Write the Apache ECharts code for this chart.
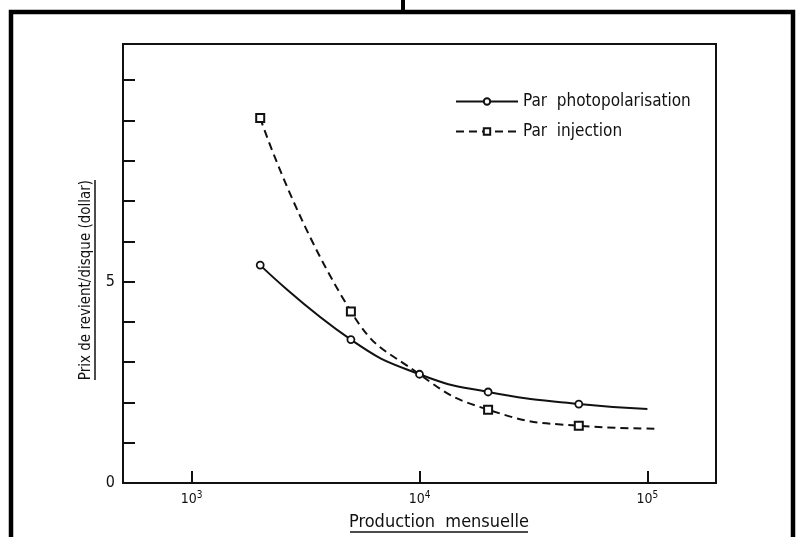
<!DOCTYPE html>
<html>
<head>
<meta charset="utf-8">
<script src="https://cdn.jsdelivr.net/npm/echarts@6/dist/echarts.min.js"></script>
<style>
  html, body { margin: 0; padding: 0; background: #fff; }
  #chart { width: 800px; height: 537px; }
</style>
</head>
<body>
<div id="chart"></div>
<script>
  // production mensuelle (log scale)
  const photoX = [2000, 5000, 10000, 20000, 50000, 100000]
  const photoY = [5.41, 3.56, 2.70, 2.26, 1.96, 1.84]
  const injX = [2000, 5000, 10000, 20000, 50000, 108000]
  const injY = [9.06, 4.26, 2.70, 1.82, 1.42, 1.35]
  // which points carry a marker
  const photoMarked = [true, true, true, true, true, false]
  const injMarked = [true, true, false, true, true, false]

  const yLabels = { 0: '0', 5: '5' }
  const supDigits = { 3: '3', 4: '4', 5: '5' }

  const FONT = '"DejaVu Sans Condensed", "Liberation Sans Narrow", sans-serif'
  const INK = '#111'

  function pts(xs, ys, marked) {
    return xs.map((x, i) => marked[i] ? [x, ys[i]] : { value: [x, ys[i]], symbol: 'none' })
  }

  const chart = echarts.init(document.getElementById('chart'))

  chart.setOption({
    backgroundColor: '#fff',
    animation: false,
    textStyle: { fontFamily: FONT, color: INK },
    grid: {
      left: 123, right: 84, top: 44, bottom: 54,
      show: true, borderColor: INK, borderWidth: 2, backgroundColor: 'transparent'
    },
    legend: {
      orient: 'vertical',
      left: 450, top: 88,
      itemWidth: 62, itemHeight: 8, itemGap: 13,
      textStyle: { fontFamily: FONT, fontSize: 17, color: INK },
      data: ['Par  photopolarisation', 'Par  injection']
    },
    xAxis: {
      type: 'log', logBase: 10, min: 500, max: 200000,
      axisLine: { lineStyle: { color: INK, width: 2 } },
      axisTick: { inside: true, length: 12, lineStyle: { color: INK, width: 2 } },
      splitLine: { show: false },
      axisLabel: {
        margin: 7, color: INK, fontSize: 14,
        showMinLabel: false, showMaxLabel: false,
        formatter: v => {
          const p = Math.round(Math.log10(v))
          if (Math.abs(Math.pow(10, p) - v) > 1e-6 * v || !supDigits[p]) return ''
          return '10{s|' + supDigits[p] + '}'
        },
        rich: { s: { fontSize: 10, verticalAlign: 'top', padding: [0, 0, 8, 0], color: INK } }
      }
    },
    yAxis: {
      type: 'value', min: 0, max: 10.9, interval: 1,
      axisLine: { show: true, lineStyle: { color: INK, width: 2 } },
      axisTick: { inside: true, length: 12, lineStyle: { color: INK, width: 2 } },
      splitLine: { show: false },
      axisLabel: {
        margin: 8, color: INK, fontSize: 16,
        formatter: v => yLabels[v] !== undefined ? yLabels[v] : ''
      }
    },
    graphic: [
      // outer frame of the scanned page
      { type: 'polyline', shape: { points: [[11, 537], [11, 12], [793, 12], [793, 537]] },
        style: { stroke: '#000', lineWidth: 4.5, fill: null } },
      { type: 'line', shape: { x1: 403, y1: 0, x2: 403, y2: 12 }, style: { stroke: '#000', lineWidth: 4 } },
      // x axis title
      { type: 'text', x: 439, y: 522, style: { text: 'Production  mensuelle', font: '18px ' + FONT,
        fill: INK, align: 'center', verticalAlign: 'middle' } },
      { type: 'line', shape: { x1: 350, y1: 532, x2: 528, y2: 532 }, style: { stroke: INK, lineWidth: 1.5 } },
      // y axis title
      { type: 'group', x: 86, y: 280, rotation: Math.PI / 2, children: [
        { type: 'text', x: 0, y: 0, style: { text: 'Prix de revient/disque (dollar)', font: '15px ' + FONT,
          fill: INK, align: 'center', verticalAlign: 'middle' } },
        { type: 'line', shape: { x1: -100, y1: 9, x2: 100, y2: 9 }, style: { stroke: INK, lineWidth: 1.5 } }
      ] }
    ],
    series: [
      {
        name: 'Par  photopolarisation',
        type: 'line',
        smooth: 0.5,
        symbol: 'circle',
        symbolSize: 7,
        showAllSymbol: true,
        itemStyle: { color: '#fff', borderColor: INK, borderWidth: 1.8 },
        lineStyle: { color: INK, width: 2 },
        data: pts(photoX, photoY, photoMarked)
      },
      {
        name: 'Par  injection',
        type: 'line',
        smooth: 0.5,
        symbol: 'rect',
        symbolSize: 8,
        showAllSymbol: true,
        itemStyle: { color: '#fff', borderColor: INK, borderWidth: 2 },
        lineStyle: { color: INK, width: 2, type: [8, 5] },
        data: pts(injX, injY, injMarked)
      }
    ]
  })
</script>
</body>
</html>
